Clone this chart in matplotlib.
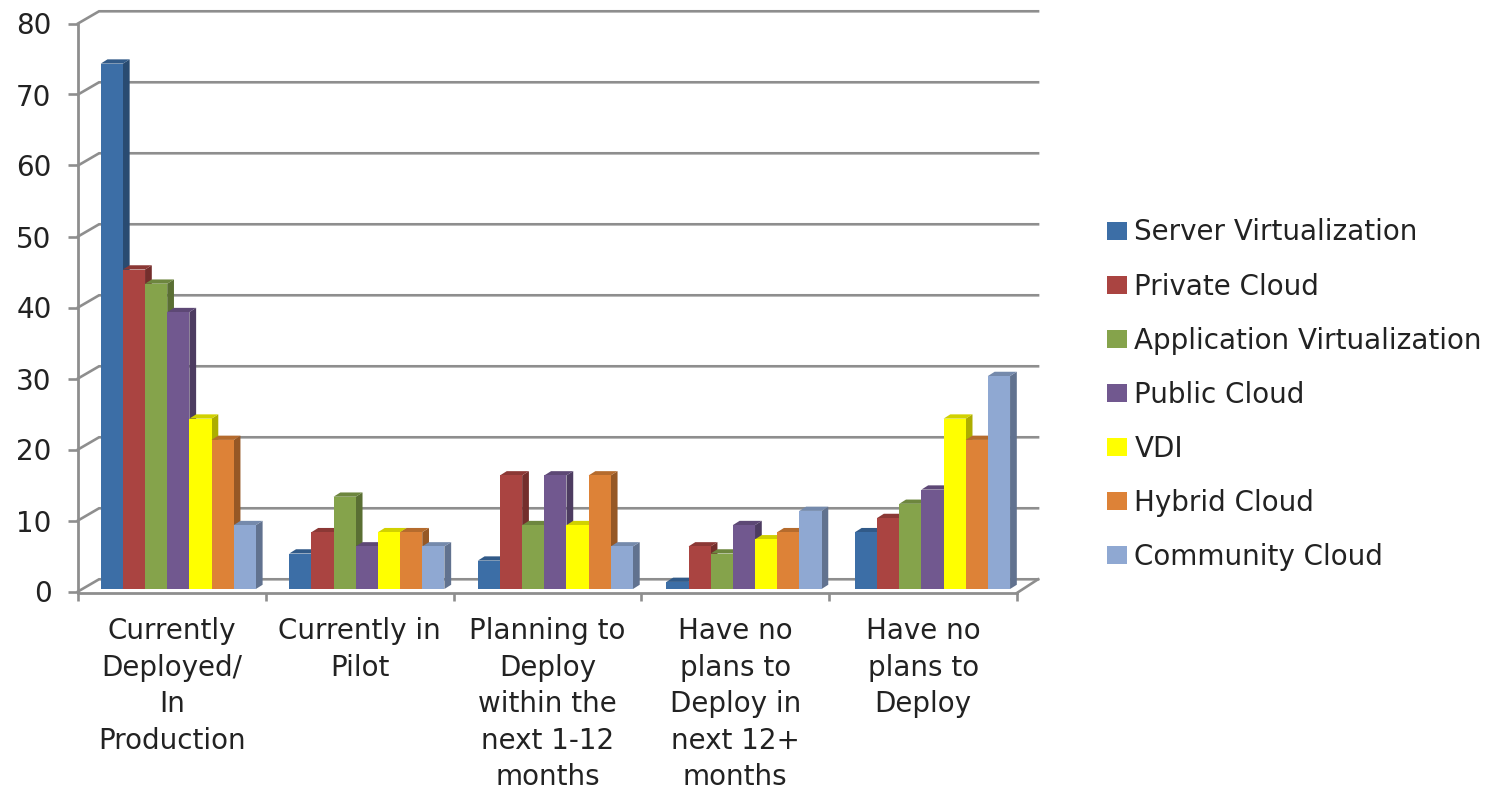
import matplotlib
matplotlib.use("Agg")
import matplotlib.pyplot as plt
from matplotlib.colors import to_rgb
from matplotlib.patches import Patch, Polygon

categories = [
    "Currently\nDeployed/\nIn\nProduction",
    "Currently in\nPilot",
    "Planning to\nDeploy\nwithin the\nnext 1-12\nmonths",
    "Have no\nplans to\nDeploy in\nnext 12+\nmonths",
    "Have no\nplans to\nDeploy",
]
series_names = [
    "Server Virtualization",
    "Private Cloud",
    "Application Virtualization",
    "Public Cloud",
    "VDI",
    "Hybrid Cloud",
    "Community Cloud",
]
server_virt = [74, 5, 4, 1, 8]
private_cloud = [45, 8, 16, 6, 10]
app_virt = [43, 13, 9, 5, 12]
public_cloud = [39, 6, 16, 9, 14]
vdi = [24, 8, 9, 7, 24]
hybrid_cloud = [21, 8, 16, 8, 21]
community_cloud = [9, 6, 6, 11, 30]
series_values = [server_virt, private_cloud, app_virt, public_cloud, vdi, hybrid_cloud, community_cloud]
colors = ["#3c6ea6", "#aa4441", "#85a34b", "#71588f", "#ffff00", "#dd8237", "#8fa8d2"]
y_ticks = [0, 10, 20, 30, 40, 50, 60, 70, 80]

GRAY = "#8e8e8e"
FONT = 20
# depth of the fake 3d wall and of the bars, in axis units
WALL_DX, WALL_DY = 0.112, 1.72
BAR_DX, BAR_DY = 0.036, 0.6
BAR_W, BAR_START, BAR_LIFT = 0.118, 0.121, 0.35
GROUP_STEP = 1.004


def shade(color, factor):
    return tuple(c * factor for c in to_rgb(color))


fig = plt.figure(figsize=(14.86, 7.89), dpi=100)
ax = fig.add_axes([78 / 1486, 1 - 591.5 / 789, (1017 - 78) / 1486, 568 / 789])
ax.set_xlim(0, 5)
ax.set_ylim(0, 80)

# back wall and floor
for v in y_ticks:
    ax.plot([0, WALL_DX, 5 + WALL_DX], [v, v + WALL_DY, v + WALL_DY], color=GRAY, lw=1.9,
            clip_on=False, zorder=1, solid_joinstyle="miter")
ax.plot([5, 5 + WALL_DX], [-0.2, WALL_DY], color=GRAY, lw=1.9, clip_on=False, zorder=1)

# bars, left to right so each one hides the side of its neighbour
z = 3
for i, cat_values in enumerate(zip(*series_values)):
    for j, value in enumerate(cat_values):
        x0 = i * GROUP_STEP + BAR_START + j * BAR_W
        x1 = x0 + BAR_W
        top = BAR_LIFT + value
        ax.bar(x0, value, BAR_W, bottom=BAR_LIFT, align="edge", color=colors[j], zorder=z)
        side = [(x1, BAR_LIFT), (x1 + BAR_DX, BAR_LIFT + BAR_DY), (x1 + BAR_DX, top + BAR_DY), (x1, top)]
        roof = [(x0, top), (x0 + BAR_DX, top + BAR_DY), (x1 + BAR_DX, top + BAR_DY), (x1, top)]
        ax.add_patch(Polygon(side, closed=True, color=shade(colors[j], 0.68), lw=0, zorder=z - 0.5))
        ax.add_patch(Polygon(roof, closed=True, color=shade(colors[j], 0.82), lw=0, zorder=z - 0.5))
        z += 1

for name in ["top", "right"]:
    ax.spines[name].set_visible(False)
for name in ["left", "bottom"]:
    ax.spines[name].set_color(GRAY)
    ax.spines[name].set_linewidth(2.0)
ax.spines["bottom"].set_position(("outward", 1.2))
ax.patch.set_alpha(0)

ax.set_yticks(y_ticks)
ax.tick_params(axis="y", length=7, width=1.9, color=GRAY, labelsize=FONT, pad=12, labelcolor="#222222")
ax.set_xticks(range(6))
ax.set_xticklabels([])
ax.tick_params(axis="x", which="major", length=6, width=1.9, color=GRAY)
ax.set_xticks([i + 0.5 for i in range(5)], minor=True)
ax.set_xticklabels(categories, minor=True, fontsize=FONT, linespacing=1.38, color="#222222")
ax.tick_params(axis="x", which="minor", length=0, pad=17.5)

handles = [Patch(facecolor=c, label=n) for c, n in zip(colors, series_names)]
fig.legend(handles=handles, loc="upper left", bbox_to_anchor=(1107 / 1486, 1 - 218.5 / 789), frameon=False,
           fontsize=FONT, handlelength=0.72, handleheight=0.61, handletextpad=0.27, labelspacing=0.94,
           borderpad=0, borderaxespad=0, labelcolor="#222222")

fig.savefig("out.png", dpi=100)
